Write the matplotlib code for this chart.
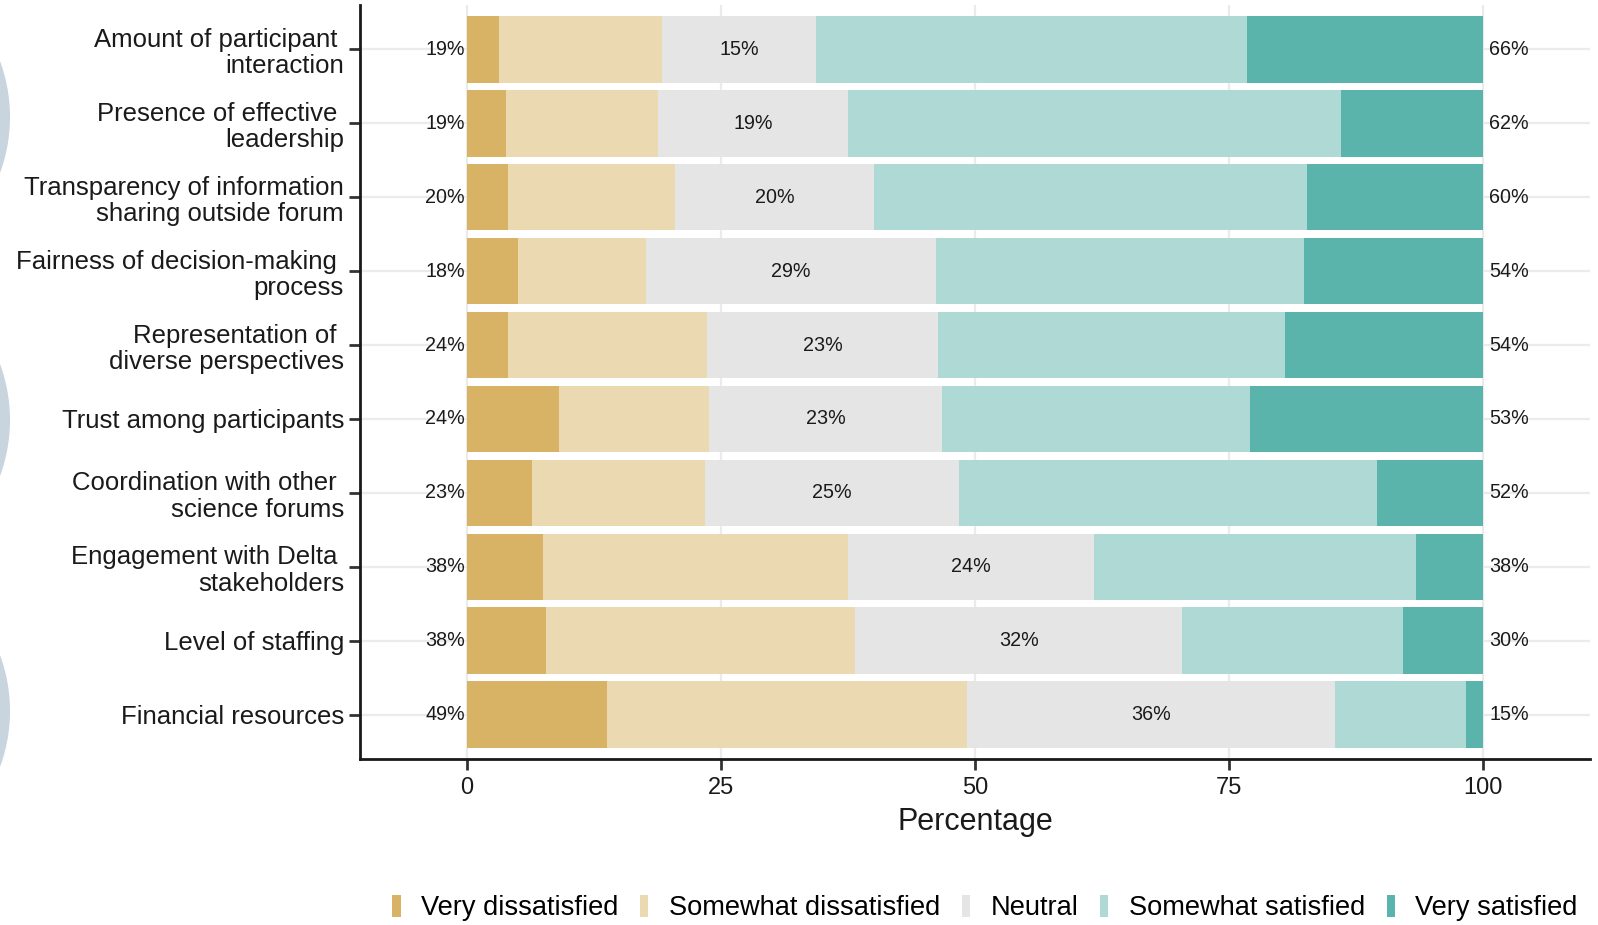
import matplotlib
matplotlib.use("Agg")
import matplotlib.pyplot as plt
from matplotlib.patches import Patch, Circle
import numpy as np

plt.rcParams["font.family"] = ["Liberation Sans", "DejaVu Sans"]

# --- data (top row first) ---
categories = [
    "Amount of participant \ninteraction",
    "Presence of effective \nleadership",
    "Transparency of information\nsharing outside forum",
    "Fairness of decision-making \nprocess",
    "Representation of \ndiverse perspectives",
    "Trust among participants",
    "Coordination with other \nscience forums",
    "Engagement with Delta \nstakeholders",
    "Level of staffing",
    "Financial resources",
]
levels = ["Very dissatisfied", "Somewhat dissatisfied", "Neutral",
          "Somewhat satisfied", "Very satisfied"]
very_dissatisfied = [3.2, 3.9, 4.1, 5.0, 4.1, 9.1, 6.4, 7.5, 7.8, 13.8]
somewhat_dissatisfied = [16.0, 14.9, 16.4, 12.6, 19.5, 14.7, 17.0, 30.0, 30.4, 35.4]
neutral = [15.2, 18.7, 19.6, 28.6, 22.8, 23.0, 25.0, 24.2, 32.2, 36.2]
somewhat_satisfied = [42.4, 48.5, 42.6, 36.2, 34.1, 30.3, 41.1, 31.7, 21.7, 12.9]
very_satisfied = [23.2, 14.0, 17.3, 17.6, 19.5, 22.9, 10.5, 6.6, 7.9, 1.7]

low_pct = [19, 19, 20, 18, 24, 24, 23, 38, 38, 49]
neutral_pct = [15, 19, 20, 29, 23, 23, 25, 24, 32, 36]
high_pct = [66, 62, 60, 54, 54, 53, 52, 38, 30, 15]

colors = ["#d8b365", "#ebd9b2", "#e5e5e5", "#aed9d5", "#5ab4ac"]
TEXT = "#1a1a1a"

fig = plt.figure(figsize=(15.98, 9.25), dpi=100)
ax = fig.add_axes([360 / 1598, 1 - 759 / 925, 1230 / 1598, 754 / 925])

n = len(categories)
y = np.arange(n)[::-1] + 1  # first category at top
series = [very_dissatisfied, somewhat_dissatisfied, neutral,
          somewhat_satisfied, very_satisfied]

left = np.zeros(n)
for vals, col, lab in zip(series, colors, levels):
    vals = np.asarray(vals)
    ax.barh(y, vals, left=left, height=0.9, color=col, linewidth=0,
            label=lab, zorder=2)
    left += vals

# percentage labels
neut_start = np.asarray(very_dissatisfied) + np.asarray(somewhat_dissatisfied)
neut_mid = neut_start + np.asarray(neutral) / 2
for yi, lo, nm, npct, hi in zip(y, low_pct, neut_mid, neutral_pct, high_pct):
    ax.text(-0.2, yi, f"{lo}%", ha="right", va="center", fontsize=14.2, color=TEXT, zorder=3)
    ax.text(nm, yi, f"{npct}%", ha="center", va="center", fontsize=14.2, color=TEXT, zorder=3)
    ax.text(100.6, yi, f"{hi}%", ha="left", va="center", fontsize=14.2, color=TEXT, zorder=3)

ax.set_xlim(-10.5, 110.5)
ax.set_ylim(0.4, n + 0.6)
ax.set_xticks([0, 25, 50, 75, 100])
ax.set_yticks(y)
ax.set_yticklabels(categories, fontsize=18.5, color=TEXT, linespacing=1.12)
ax.tick_params(axis="x", labelsize=17, colors="#333333", labelcolor=TEXT,
               length=8, width=2, pad=5)
ax.tick_params(axis="y", colors="#333333", labelcolor=TEXT, length=8, width=2, pad=3.5)
ax.grid(True, color="#ebebeb", linewidth=1.6, zorder=0)
ax.set_axisbelow(True)
for s in ("top", "right"):
    ax.spines[s].set_visible(False)
for s in ("left", "bottom"):
    ax.spines[s].set_linewidth(2)
    ax.spines[s].set_color("#1a1a1a")
ax.set_xlabel("Percentage", fontsize=22, color=TEXT, labelpad=6)

handles = [Patch(facecolor=c, edgecolor="none", label=l) for c, l in zip(colors, levels)]
fig.legend(handles=handles, loc="center", bbox_to_anchor=(985 / 1598, 1 - 908 / 925),
           ncol=5, frameon=False, fontsize=19.6, handlelength=0.3, handleheight=0.86,
           handletextpad=0.75, columnspacing=0.8)

# decorative partial circles at the left edge
for cy in (117, 420, 711):
    fig.patches.append(Circle((-1.52, (925 - cy) / 100), 1.62, transform=fig.dpi_scale_trans,
                              facecolor="#c8d4de", edgecolor="none", zorder=0))

fig.savefig("out.png", dpi=100)
